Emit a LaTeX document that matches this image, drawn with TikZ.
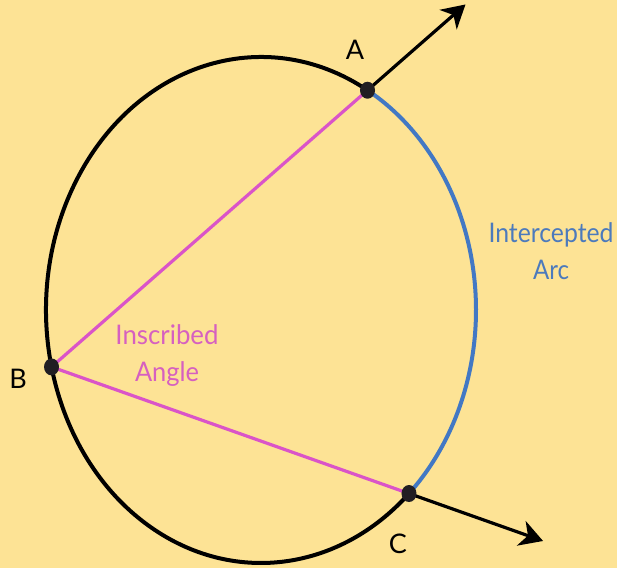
\documentclass[tikz,border=0pt]{standalone}
\usepackage{fontspec}
\setmainfont{Lato}
\usetikzlibrary{arrows.meta,calc,shapes.geometric}
\definecolor{bg}{RGB}{253,227,149}
\definecolor{pinkl}{RGB}{218,84,200}
\definecolor{pinkt}{RGB}{214,96,192}
\definecolor{bluel}{RGB}{66,120,196}
\definecolor{bluet}{RGB}{76,122,188}
\definecolor{dotc}{RGB}{33,30,35}
\newcommand\fitw[2]{\resizebox{#1}{\height}{#2}}
\tikzset{
  circ/.style={line width=4pt,black},
  arcb/.style={line width=4pt,bluel},
  chord/.style={line width=3.2pt,pinkl},
  ray/.style={line width=3.2pt,black,-{Stealth[length=23pt,width=26pt,inset=7pt]}},
  ptdot/.style={fill=dotc,draw=none,ellipse,minimum width=15pt,minimum height=17pt,inner sep=0pt},
  ptlabel/.style={anchor=base,inner sep=0pt,font=\fontsize{27}{30}\selectfont,text=black},
  lab/.style={anchor=base,inner sep=0pt,font=\fontsize{27}{30}\selectfont},
}
\begin{document}
\begin{tikzpicture}[x=1pt,y=1pt]
\fill[bg] (0,0) rectangle (617,568);
\useasboundingbox (0,0) rectangle (617,568);
\coordinate (A) at ({261+215*cos(60.3)},{258+253*sin(60.3)});
\coordinate (B) at ({261+215*cos(193)},{258+253*sin(193)});
\coordinate (C) at ({261+215*cos(313.5)},{258+253*sin(313.5)});
% circle arcs
\draw[circ] (A) arc[start angle=60.3,end angle=313.5,x radius=215pt,y radius=253pt];
\draw[arcb] (C) arc[start angle=-46.5,end angle=60.3,x radius=215pt,y radius=253pt];
% chords
\draw[chord] (B) -- (A);
\draw[chord] (B) -- (C);
% rays
\coordinate (Aend) at ($(B)!1.31!(A)$);
\coordinate (Cend) at ($(B)!1.375!(C)$);
\draw[ray] (A) -- (Aend);
\draw[ray] (C) -- (Cend);
% dots
\node[ptdot] (dA) at (A) {};
\node[ptdot] (dB) at (B) {};
\node[ptdot] (dC) at (C) {};
% labels
\node[ptlabel] (lA) at (355,508) {A};
\node[ptlabel] (lB) at (18,180) {B};
\node[ptlabel] (lC) at (398,15) {C};
\node[lab,text=pinkt] (ins) at (167,224) {\fitw{103pt}{Inscribed}};
\node[lab,text=pinkt] (ang) at (167,187) {\fitw{64pt}{Angle}};
\node[lab,text=bluet] (int) at (551,325) {\fitw{125pt}{Intercepted}};
\node[lab,text=bluet] (arc) at (551,289) {\fitw{36pt}{Arc}};
\end{tikzpicture}
\end{document}
